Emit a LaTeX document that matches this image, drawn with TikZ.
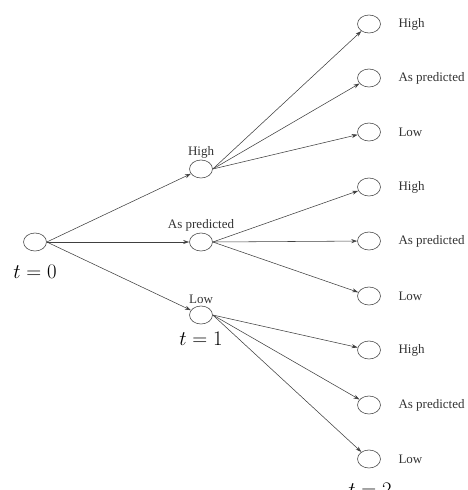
\documentclass[tikz,border=0pt]{standalone}
\usepackage{fontspec}
\setmainfont{Liberation Serif}
\usetikzlibrary{arrows.meta,shapes.geometric}
\begin{document}
\begin{tikzpicture}[x=1pt,y=-1pt,
  st/.style={draw=black!70,line width=0.6pt,ellipse,minimum width=23pt,minimum height=18pt,inner sep=0pt},
  lab/.style={font=\fontsize{13}{15}\selectfont,text=black!80},
  tl/.style={font=\fontsize{21}{24}\selectfont},
  edge/.style={draw=black!75,line width=0.55pt,-{Stealth[length=6pt,width=4pt]}}]
\useasboundingbox (0,0) rectangle (468,490);
% root
\node[st] (r) at (35,242) {};
\node[tl] (t0) at (35,272) {$t=0$};
% level 1
\node[st] (h) at (201,169) {};
\node[st] (a) at (201,242) {};
\node[st] (l) at (201,315) {};
\node[lab,anchor=south] (hl) at (201,162) {High};
\node[lab,anchor=south] (al) at (201,235) {As predicted};
\node[lab,anchor=south] (ll) at (201,307) {Low};
\node[tl] (t1) at (201,339) {$t=1$};
% level 2
\foreach \i/\y/\txt in {1/24/High,2/78/As predicted,3/132/Low,4/187/High,5/241/As predicted,6/296/Low,7/350/High,8/405/As predicted,9/459/Low}{
  \node[st] (n\i) at (369,\y) {};
  \node[lab,anchor=west] (m\i) at (395,\y) {\txt};
}
\node[tl] (t2) at (370,490) {$t=2$};
% edges
\draw[edge] (r.east) -- (h);
\draw[edge] (r.east) -- (a);
\draw[edge] (r.east) -- (l);
\foreach \i in {1,2,3}{\draw[edge] (h.east) -- (n\i);}
\foreach \i in {4,5,6}{\draw[edge] (a.east) -- (n\i);}
\foreach \i in {7,8,9}{\draw[edge] (l.east) -- (n\i);}
\end{tikzpicture}
\end{document}
